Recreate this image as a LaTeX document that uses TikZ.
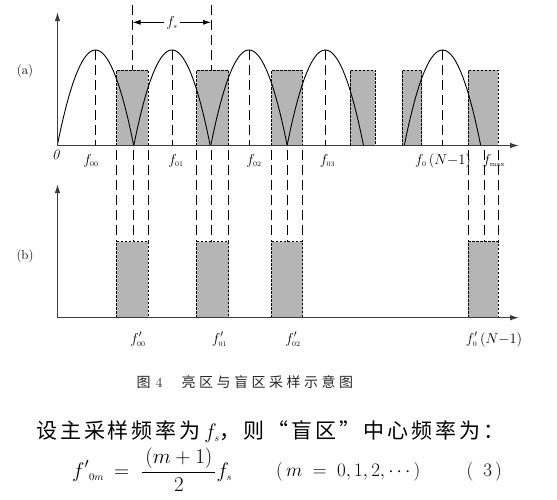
\RequirePackage{fix-cm}
\documentclass[tikz,border=0pt]{standalone}
\usepackage{fontspec}
\usetikzlibrary{arrows.meta}
\newfontfamily\cjkcap[LetterSpace=25]{Noto Sans CJK SC}
\newfontfamily\cjkbody[LetterSpace=14]{Noto Sans CJK SC}
\definecolor{boxgray}{RGB}{181,181,181}
\definecolor{axisgray}{RGB}{60,60,60}
\begin{document}
\begin{tikzpicture}[x=1pt,y=-1pt,
  shortdash/.style={draw=black,line width=0.7pt,dash pattern=on 2.5pt off 1.5pt},
  longdash/.style={draw=black,line width=0.7pt,dash pattern=on 10pt off 5pt},
  axisline/.style={draw=axisgray,line width=1.1pt,-{Latex[length=9pt,width=5.5pt]}},
  archline/.style={draw=black,line width=0.9pt},
  lbl/.style={font=\fontsize{14.4}{16}\selectfont,inner sep=0pt,anchor=base},
  panel/.style={font=\fontsize{13}{15}\selectfont,inner sep=0pt},
  mathtxt/.style={inner sep=0pt,font=\fontsize{19}{23}\selectfont,anchor=base west}]
\useasboundingbox (0,0) rectangle (557,499);

% ---------- panel (a) boxes ----------
\foreach \l/\r in {116.5/148.3,196.5/228.5,271.7/302.7,350/375.3,402.3/421.7,468/498}{
  \fill[boxgray] (\l,70) rectangle (\r,145.5);
  \draw[shortdash] (\l,145.5) -- (\l,70) -- (\r,70) -- (\r,145.5);
}
% ---------- arches (parabolic) ----------
\foreach \c in {95.5,172,249,325.3,442.5}{
  \draw[archline] plot[domain=-1:1,samples=61,smooth,variable=\t]
     ({\c+38.2*\t},{145.5-95.5*(1-\t*\t)});
  \draw[longdash] (\c,50) -- (\c,145.5);
}
% ---------- fs marker ----------
\coordinate (fsL) at (132.5,22.3);
\coordinate (fsR) at (211,22.3);
\draw[longdash] (132.5,5) -- (132.5,70);
\draw[longdash] (211,5) -- (211,70);
\node[inner sep=2pt,font=\fontsize{14.4}{16}\selectfont] (fs) at (172,23) {$f_{\scriptscriptstyle s}$};
\draw[line width=0.8pt,-{Latex[length=8pt,width=5pt]}] (fs.west |- fsL) -- (fsL);
\draw[line width=0.8pt,-{Latex[length=8pt,width=5pt]}] (fs.east |- fsR) -- (fsR);

% ---------- connecting lines and panel (b) boxes ----------
\foreach \l/\c/\r in {116.5/133.3/148.3,196.5/211/228.5,271.7/287.3/302.7,468/484/498}{
  \foreach \x in {\l,\c,\r}{\draw[longdash] (\x,150) -- (\x,241.7);}
  \fill[boxgray] (\l,241.7) rectangle (\r,317.7);
  \draw[shortdash] (\l,317.7) -- (\l,241.7) -- (\r,241.7) -- (\r,317.7);
}

% ---------- axes ----------
\coordinate (Oa) at (57.5,145.5);
\coordinate (Ya) at (57.5,12);
\coordinate (Xa) at (519,145.5);
\coordinate (Ob) at (57.5,317.7);
\coordinate (Yb) at (57.5,184);
\coordinate (Xb) at (519,317.7);
\draw[axisline] (Oa) -- (Ya);
\draw[axisline] (Oa) -- (Xa);
\draw[axisline] (Ob) -- (Yb);
\draw[axisline] (Ob) -- (Xb);

% ---------- labels ----------
\node[panel] (la) at (25,71) {(a)};
\node[panel] (lb) at (25,256) {(b)};
\node[lbl] (zero) at (56,159) {\textit{0}};
\node[lbl] (f00) at (91,164) {$f_{\scriptscriptstyle 00}$};
\node[lbl] (f01) at (176,164) {$f_{\scriptscriptstyle 01}$};
\node[lbl] (f02) at (254,164) {$f_{\scriptscriptstyle 02}$};
\node[lbl] (f03) at (327.5,164) {$f_{\scriptscriptstyle 03}$};
\node[lbl] (f0N) at (443,164) {$f_{\scriptscriptstyle 0}\,(N{-}1)$};
\node[lbl] (fmax) at (494,164) {$f_{\scriptscriptstyle \mathrm{max}}$};
\node[lbl] (g00) at (138,343) {$f'_{\scriptscriptstyle 00}$};
\node[lbl] (g01) at (219.5,343) {$f'_{\scriptscriptstyle 01}$};
\node[lbl] (g02) at (293,343) {$f'_{\scriptscriptstyle 02}$};
\node[lbl] (g0N) at (494,343) {$f'_{\scriptscriptstyle 0}\,(N{-}1)$};

% ---------- caption and text ----------
\node[inner sep=0pt,font=\fontsize{14}{16}\selectfont,text=black!85,anchor=west] (cap) at (136.5,381.7)
  {{\cjkcap 图}\hspace{5pt}4\hspace{19pt}{\cjkcap 亮区与盲区采样示意图}};
\node[inner sep=0pt,font=\fontsize{21}{25}\selectfont,anchor=west] (txt) at (36,431.7)
  {{\cjkbody 设主采样频率为}\,$f_{\scriptscriptstyle s}${\cjkbody ，则“盲区”中心频率为：}};
\node[mathtxt,font=\fontsize{21}{25}\selectfont] (eq) at (72,477.2)
  {$\displaystyle f'{}_{\scriptscriptstyle 0m}\hspace{10pt}{=}\hspace{12pt}\frac{\hspace{3pt}(m+1)\hspace{3pt}}{2}f_{\scriptscriptstyle s}$};
\node[mathtxt] (cond) at (276,476.7)
  {$(\,m\;=\;0,1,2,\cdots\,)$};
\node[mathtxt] (num) at (466.5,476.7)
  {$(\hspace{10pt}3\hspace{3pt})$};
\end{tikzpicture}
\end{document}
